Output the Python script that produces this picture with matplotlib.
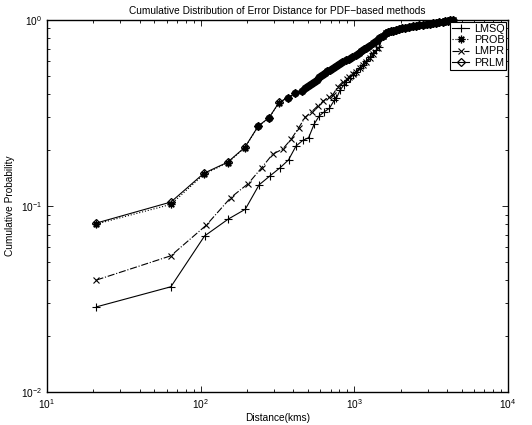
import matplotlib
matplotlib.use("Agg")
import matplotlib.pyplot as plt

plt.rcParams['font.family'] = ['Liberation Sans', 'DejaVu Sans']

# shared upper tail (all methods merge beyond ~1.5e3 km)
tail_dist = [1530, 1608, 1660, 1720, 1790, 1869, 1950, 2040, 2150, 2280, 2400, 2530,
             2650, 2785, 2950, 3100, 3250, 3420, 3580, 3750, 3900, 4050, 4200, 4370]
tail_prob = [0.82, 0.848, 0.858, 0.868, 0.876, 0.884, 0.893, 0.902, 0.911, 0.921, 0.926, 0.932,
             0.936, 0.940, 0.946, 0.952, 0.958, 0.965, 0.972, 0.978, 0.984, 0.989, 0.994, 1.0]

prlm_dist = [21, 64, 105, 150, 194, 237, 279, 324, 368, 413, 457, 480, 502, 525, 549, 570,
             592, 615, 640, 665, 690, 722, 755, 790, 830, 883, 920, 960, 1026, 1070, 1110,
             1150, 1192, 1250, 1318, 1380, 1456]
prlm_prob = [0.081, 0.105, 0.150, 0.172, 0.207, 0.269, 0.299, 0.361, 0.382, 0.404, 0.417, 0.43,
             0.442, 0.452, 0.463, 0.478, 0.496, 0.507, 0.52, 0.53, 0.54, 0.55, 0.565, 0.58,
             0.595, 0.61, 0.62, 0.635, 0.648, 0.665, 0.685, 0.695, 0.705, 0.725, 0.75, 0.775,
             0.797]

prob_dist = [21, 64, 105, 150, 194, 237, 279, 324, 368, 413, 457, 480, 502, 525, 549, 570,
             592, 615, 640, 665, 690, 722, 755, 790, 830, 883, 920, 960, 1026, 1070, 1110,
             1150, 1192, 1250, 1318, 1380, 1456]
prob_prob = [0.080, 0.102, 0.148, 0.171, 0.206, 0.268, 0.298, 0.360, 0.381, 0.403, 0.416, 0.43,
             0.441, 0.451, 0.462, 0.477, 0.495, 0.506, 0.519, 0.529, 0.539, 0.549, 0.564, 0.579,
             0.594, 0.609, 0.619, 0.634, 0.647, 0.664, 0.684, 0.694, 0.704, 0.724, 0.749, 0.774,
             0.796]

lmpr_dist = [21, 64, 109, 157, 204, 250, 294, 341, 387, 434, 479, 527, 577, 628, 680, 722,
             781, 842, 890, 928, 975, 1026, 1080, 1135, 1190, 1255, 1330, 1420]
lmpr_prob = [0.040, 0.054, 0.079, 0.111, 0.132, 0.161, 0.190, 0.202, 0.228, 0.263, 0.300, 0.321,
             0.345, 0.367, 0.385, 0.395, 0.438, 0.466, 0.48, 0.496, 0.51, 0.527, 0.55, 0.573,
             0.598, 0.622, 0.66, 0.705]

lmsq_dist = [21, 64, 106, 151, 195, 240, 282, 330, 373, 417, 461, 504, 548, 591, 638, 688,
             741, 764, 808, 850, 883, 930, 975, 1030, 1080, 1135, 1192, 1255, 1318, 1390, 1456]
lmsq_prob = [0.0287, 0.0368, 0.069, 0.085, 0.096, 0.130, 0.145, 0.161, 0.177, 0.210, 0.225,
             0.233, 0.276, 0.305, 0.321, 0.335, 0.371, 0.379, 0.420, 0.445, 0.466, 0.485, 0.506,
             0.528, 0.550, 0.575, 0.600, 0.630, 0.662, 0.69, 0.72]

labels = ["LMSQ", "PROB", "LMPR", "PRLM"]

fig = plt.figure(figsize=(5.32, 4.25), dpi=100)
ax = fig.add_axes([0.0883, 0.0776, 0.8667, 0.8754])

asterisk = (8, 2, 0)
ax.plot(lmsq_dist + tail_dist, lmsq_prob + tail_prob, color='black', lw=0.8, ls='-',
        marker='+', ms=5.5, mew=0.8, label=labels[0], clip_on=False)
ax.plot(prob_dist + tail_dist, prob_prob + tail_prob, color='black', lw=0.8, ls=':',
        marker=asterisk, ms=5.5, mew=0.9, label=labels[1], clip_on=False)
ax.plot(lmpr_dist + tail_dist, lmpr_prob + tail_prob, color='black', lw=0.8, ls='-.',
        marker='x', ms=4, mew=0.8, label=labels[2], clip_on=False)
ax.plot(prlm_dist + tail_dist, prlm_prob + tail_prob, color='black', lw=0.8, ls='-',
        marker='D', ms=4.5, mew=0.9, mfc='none', label=labels[3], clip_on=False)

ax.set_xscale('log')
ax.set_yscale('log')
ax.set_xlim(10, 1e4)
ax.set_ylim(1e-2, 1)

ax.tick_params(which='both', direction='in', top=True, right=True, labelsize=7.3, width=0.6)
ax.tick_params(which='major', length=4)
ax.tick_params(which='minor', length=2)
for s in ax.spines.values():
    s.set_linewidth(1.0)

ax.set_title("Cumulative Distribution of Error Distance for PDF\u2212based methods", fontsize=7.3, pad=4)
ax.set_xlabel("Distance(kms)", fontsize=7.3, labelpad=2)
ax.set_ylabel("Cumulative Probability", fontsize=7.3, labelpad=4)

leg = ax.legend(loc='upper right', fontsize=7.8, frameon=True, fancybox=False,
                edgecolor='black', framealpha=1, borderaxespad=0.15, handlelength=1.6,
                handletextpad=0.4, borderpad=0.2, labelspacing=0.12)
leg.get_frame().set_linewidth(0.8)

fig.savefig("out.png", dpi=100)
